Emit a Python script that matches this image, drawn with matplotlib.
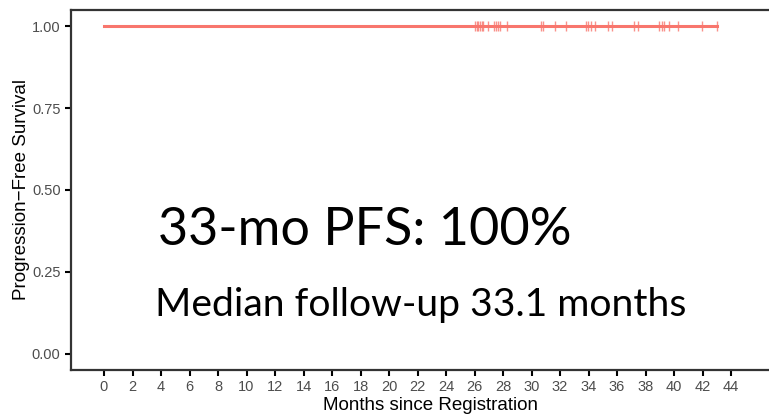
import numpy as np
import matplotlib
matplotlib.use('Agg')
import matplotlib.pyplot as plt

# step curve (no events, stays at 1)
curve_time = [0, 43.0]
curve_surv = [1.0, 1.0]

# censoring times (months)
censor_times = [26.04, 26.15, 26.27, 26.39, 26.5, 26.62, 26.93, 27.39, 27.51,
                27.63, 27.79, 28.26, 30.67, 30.83, 31.65, 32.42, 33.82, 33.99,
                34.18, 34.46, 35.35, 35.63, 37.17, 37.45, 38.97, 39.14, 39.32,
                39.67, 40.30, 41.99, 43.0]

x_ticks = list(range(0, 46, 2))
y_ticks = [0.0, 0.25, 0.5, 0.75, 1.0]
y_ticklabels = ['0.00', '0.25', '0.50', '0.75', '1.00']

W, H = 769, 418
fig = plt.figure(figsize=(W / 100, H / 100), dpi=100)

# axes in pixels: left spine 71, top 10, bottom 370, right spine off the picture
left, top, bottom, right = 71, 10, 370, 790
ax = fig.add_axes([left / W, (H - bottom) / H, (right - left) / W, (bottom - top) / H])

px_per_mo = (731 - 104) / 44
ax.set_xlim(-(104 - left) / px_per_mo, (right - 104) / px_per_mo)
ax.set_ylim(-0.0488, 1.0488)

col = '#F8766D'
ax.step(curve_time, curve_surv, where='post', color=col, lw=2.2, zorder=3)
ax.plot(censor_times, np.ones(len(censor_times)), ls='none', marker='|',
        ms=7, mew=1.0, color=col, alpha=0.8, zorder=3)

for sp in ax.spines.values():
    sp.set_color('#333333')
    sp.set_linewidth(1.6)

ax.set_xticks(x_ticks)
ax.set_xticklabels([str(t) for t in x_ticks])
ax.set_yticks(y_ticks)
ax.set_yticklabels(y_ticklabels)
ax.tick_params(axis='both', length=4, width=1.5, color='black',
               labelcolor='#4D4D4D', labelsize=10.5)
for lab in ax.get_xticklabels() + ax.get_yticklabels():
    lab.set_family('Liberation Sans')

ax.set_xlabel('Months since Registration', fontsize=13.5, family='Liberation Sans',
              labelpad=2)
ax.set_ylabel('Progression\u2212Free Survival', fontsize=13.5, family='Liberation Sans',
              labelpad=1)

fig.text(158 / W, 1 - 245 / H, '33-mo PFS: 100%', fontsize=37.5, family='Lato',
         ha='left', va='baseline', color='black')
fig.text(155 / W, 1 - 316 / H, 'Median follow-up 33.1 months', fontsize=28.2,
         family='Lato', ha='left', va='baseline', color='black')

fig.savefig('out.png', dpi=100)
